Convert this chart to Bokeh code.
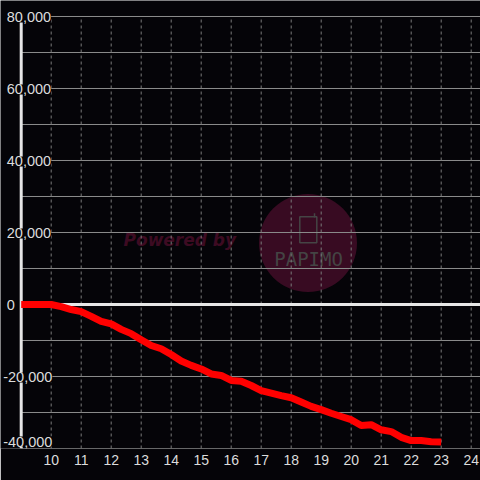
from bokeh.plotting import figure
from bokeh.models import Label, FixedTicker
from bokeh.embed import file_html
from bokeh.resources import INLINE

# ---- data ----
times = ["09:00", "09:20", "09:40", "10:00", "10:20", "10:40", "11:00", "11:20", "11:40",
         "12:00", "12:20", "12:40", "13:00", "13:20", "13:40", "14:00", "14:20", "14:40",
         "15:00", "15:20", "15:40", "16:00", "16:20", "16:40", "17:00", "17:20", "17:40",
         "18:00", "18:20", "18:40", "19:00", "19:20", "19:40", "20:00", "20:20", "20:40",
         "21:00", "21:20", "21:40", "22:00", "22:20", "22:40", "23:00"]
values = [0, 0, 0, 0, -600, -1400, -2000, -3300, -4700,
          -5400, -6900, -8100, -9800, -11400, -12300, -13900, -15700, -16900,
          -17900, -19300, -19700, -21100, -21300, -22500, -23900, -24600, -25300,
          -25900, -27100, -28300, -29200, -30200, -31100, -32000, -33600, -33400,
          -34800, -35300, -36900, -37800, -37800, -38100, -38200]
x_tick_values = [10, 11, 12, 13, 14, 15, 16, 17, 18, 19, 20, 21, 22, 23, 24]
y_grid_values = [80000, 70000, 60000, 50000, 40000, 30000, 20000, 10000,
                 -10000, -20000, -30000, -40000]
y_label_values = [80000, 60000, 40000, 20000, 0, -20000, -40000]
y_label_texts = ["80,000", "60,000", "40,000", "20,000", "0", "-20,000", "-40,000"]

# axis extents (data units) and visible ranges
X_AXIS, X_RIGHT = 9.0, 24.31
X_LEFT = 8.31
Y_START, Y_END, Y_TOP = -40000, 80000, 84444

hours = [int(t[:2]) + int(t[3:]) / 60 for t in times]

BG = "#050408"
TXT = "#dcdcdc"
FONT = "Liberation Sans"

p = figure(width=480, height=480, x_range=(X_LEFT, X_RIGHT), y_range=(Y_START, Y_TOP),
           output_backend="svg", toolbar_location=None,
           background_fill_color=BG, border_fill_color=BG,
           min_border_left=0, min_border_right=0, min_border_top=0, min_border_bottom=32)
p.outline_line_color = None
p.grid.visible = False
p.yaxis.visible = False

# x axis (labels only)
p.xaxis.ticker = FixedTicker(ticks=x_tick_values)
p.xaxis.major_label_text_color = TXT
p.xaxis.major_label_text_font_size = "14px"
p.xaxis.major_label_text_font = FONT
p.xaxis.major_tick_line_color = None
p.xaxis.minor_tick_line_color = None
p.xaxis.axis_line_color = None
p.xaxis.major_label_standoff = 0

# watermark (beneath the grid)
wm_circle = p.scatter([18.56], [17083], size=98, marker="circle",
                      fill_color="#380b22", line_color=None)
wm_circle.level = "image"
phone = p.rect([18.57], [20780], width=17, height=26, width_units="screen",
               height_units="screen", fill_color=None, line_color="#454545", line_width=1.5)
phone.level = "image"
antenna = p.segment(x0=[18.777], y0=[24170], x1=[18.777], y1=[25360],
                    line_color="#454545", line_width=1.5)
antenna.level = "image"
p.add_layout(Label(x=12.41, y=17900, text="Powered by", text_font="DejaVu Sans",
                   text_font_style="bold italic", text_font_size="17px",
                   text_color="#3d0b22", text_baseline="alphabetic", level="image"))
p.add_layout(Label(x=18.58, y=12500, text="PAPIMO", text_font="DejaVu Sans Mono",
                   text_font_size="19px", text_color="#444444", text_align="center",
                   text_baseline="alphabetic", level="image"))

# grid lines
p.segment(x0=[X_AXIS] * len(y_grid_values), y0=y_grid_values,
          x1=[X_RIGHT] * len(y_grid_values), y1=y_grid_values,
          line_color="#8c8c8c", line_width=1)
p.segment(x0=x_tick_values, y0=[Y_START] * len(x_tick_values),
          x1=x_tick_values, y1=[Y_END] * len(x_tick_values),
          line_color="#7a7a7a", line_width=1, line_dash="3 3")

# y axis line and zero line
p.segment(x0=[X_AXIS], y0=[Y_START], x1=[X_AXIS], y1=[Y_END], line_color="#e6e6e6", line_width=3)
p.segment(x0=[X_AXIS], y0=[0], x1=[X_RIGHT], y1=[0], line_color="#e8e8e8", line_width=3)

# data line
p.line(hours, values, line_color="#ff0000", line_width=7, line_join="round", line_cap="butt")

# y labels with background boxes (lowest one kept inside the plot)
for v, t in zip(y_label_values, y_label_texts):
    off = -18 if t.startswith("-") else -14.4
    lift = 7 if v == Y_START else -1
    p.add_layout(Label(x=X_AXIS, y=v, text=t, x_offset=off, y_offset=lift, text_align="left",
                       text_baseline="middle", text_color=TXT, text_font=FONT,
                       text_font_size="14.5px", background_fill_color=BG))

open("out.html", "w").write(file_html(p, INLINE))
